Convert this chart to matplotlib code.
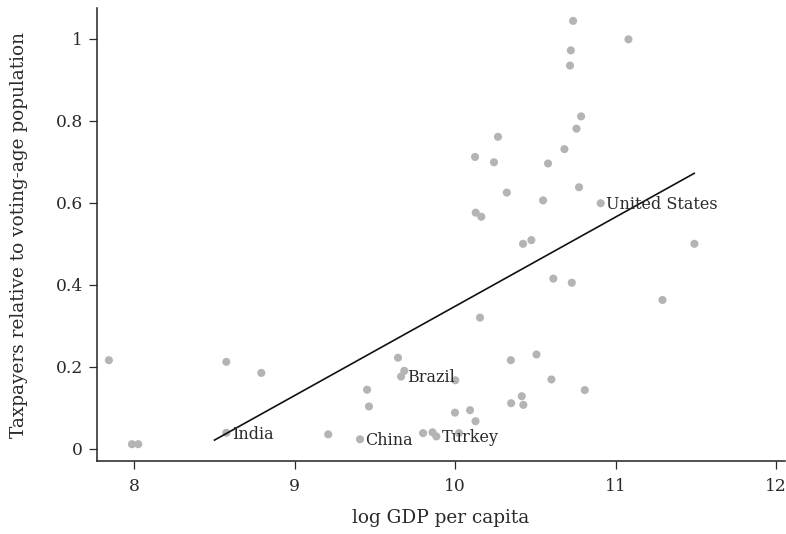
import matplotlib
matplotlib.use('Agg')
import matplotlib.pyplot as plt

# ---------------------------- Данные ----------------------------------

log_gdp = [10.735, 11.080, 10.721, 10.716, 10.785, 10.756, 10.267, 10.681,
           10.124, 10.242, 10.579, 10.322, 10.772, 10.548, 10.907, 10.128,
           10.163, 10.423, 10.475, 10.612, 10.727, 11.292, 11.491, 10.155,
           9.644, 9.683, 9.663, 10.001, 10.347, 10.507, 10.600, 10.808,
           9.451, 9.463, 9.999, 10.093, 10.127, 10.349, 10.415, 10.425,
           9.407, 9.800, 9.859, 9.883, 10.024, 7.842, 8.574, 8.792,
           7.986, 8.025, 8.574, 9.209]
taxpayers = [1.044, 0.999, 0.972, 0.935, 0.811, 0.781, 0.761, 0.731,
             0.712, 0.699, 0.696, 0.625, 0.638, 0.606, 0.599, 0.576,
             0.566, 0.500, 0.509, 0.415, 0.405, 0.363, 0.500, 0.320,
             0.222, 0.190, 0.176, 0.167, 0.216, 0.230, 0.169, 0.143,
             0.144, 0.103, 0.088, 0.094, 0.067, 0.111, 0.128, 0.107,
             0.023, 0.038, 0.040, 0.030, 0.038, 0.216, 0.212, 0.185,
             0.011, 0.011, 0.039, 0.035]

labels = ['United States', 'Brazil', 'China', 'Turkey', 'India']
label_x = [10.907, 9.663, 9.407, 9.883, 8.574]
label_y = [0.599, 0.176, 0.023, 0.030, 0.039]

fit_x = [8.50, 11.49]		# линия регрессии
fit_y = [0.021, 0.672]

x_ticks = [8, 9, 10, 11, 12]
y_ticks = [0, 0.2, 0.4, 0.6, 0.8, 1]
y_ticklabels = ['0', '0.2', '0.4', '0.6', '0.8', '1']

# ---------------------------- График ----------------------------------

plt.rcParams['font.family'] = ['DejaVu Serif']

fig = plt.figure(figsize=(7.86, 5.34), dpi=100)
ax = fig.add_axes([0.123, 0.1367, 0.876, 0.848])

ax.scatter(log_gdp, taxpayers, s=34, color='#b4b4b4', edgecolors='none', zorder=2)
ax.plot(fit_x, fit_y, color='#111111', linewidth=1.2, zorder=3)

for name, x, y in zip(labels, label_x, label_y):
	ax.annotate(name, (x, y), xytext=(4, -1), textcoords='offset points',
				fontsize=11.5, va='center', ha='left', color='#2a2a2a', zorder=4)

ax.set_xlim(7.766, 12.057)
ax.set_ylim(-0.030, 1.075)
ax.set_xticks(x_ticks)
ax.set_yticks(y_ticks)
ax.set_yticklabels(y_ticklabels)

for side in ['top', 'right']:
	ax.spines[side].set_visible(False)
for side in ['left', 'bottom']:
	ax.spines[side].set_linewidth(1.1)
	ax.spines[side].set_color('#222222')

ax.tick_params(axis='both', direction='out', length=5.5, width=0.9,
			   colors='#2a2a2a', labelsize=12.3)
ax.tick_params(axis='x', pad=7)
ax.tick_params(axis='y', pad=4.5)

ax.set_xlabel('log GDP per capita', fontsize=13.3, color='#2a2a2a', labelpad=10)
ax.set_ylabel('Taxpayers relative to voting-age population', fontsize=13.3,
			  color='#2a2a2a', labelpad=20)

fig.savefig('out.png', dpi=100)
